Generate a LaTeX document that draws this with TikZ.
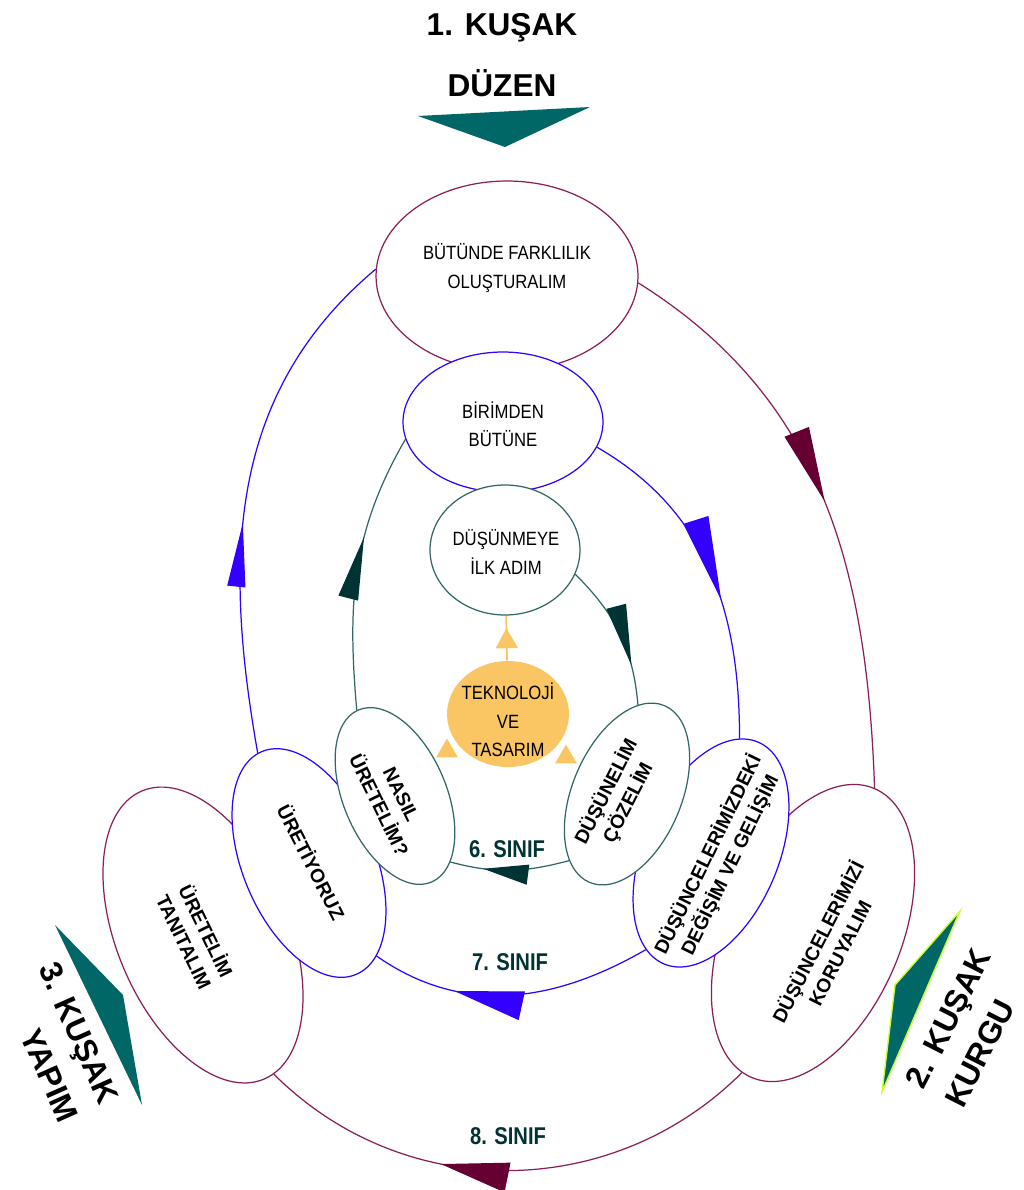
\documentclass[tikz,border=0pt]{standalone}
\usepackage{fontspec}
\setmainfont{Liberation Sans}
\usepackage{tikz}
\usetikzlibrary{arrows.meta}
\usetikzlibrary{decorations.markings}
\usetikzlibrary{shapes.geometric}
\usetikzlibrary{backgrounds}

\definecolor{mor}{RGB}{140,30,90}
\definecolor{morok}{RGB}{102,0,51}
\definecolor{mavi}{RGB}{51,0,255}
\definecolor{yesil}{RGB}{51,102,102}
\definecolor{yesilok}{RGB}{0,51,51}
\definecolor{kusak}{RGB}{0,102,102}
\definecolor{turuncu}{RGB}{250,198,100}
\definecolor{sari}{RGB}{204,255,51}

\tikzset{
  halka/.style={ellipse, draw=#1, fill=white, line width=0.7pt, inner sep=0pt},
  yazi/.style={align=center, yscale=1.15, font=\fontsize{9.5}{14}\selectfont},
  donenyazi/.style={align=center, font=\bfseries\fontsize{11}{14}\selectfont},
  sinifyazi/.style={yscale=1.2, text=yesilok, font=\bfseries\fontsize{11.5}{12}\selectfont},
  kusakyazi/.style={font=\bfseries\fontsize{18}{25}\selectfont},
  sivri/.style={regular polygon, regular polygon sides=3, fill=turuncu, inner sep=0pt, minimum size=0.5cm},
  ok/.style n args={4}{postaction={decorate}, decoration={markings,
      mark=at position #1 with {\arrow{Triangle[length=#2, width=#3, color=#4]}}}},
}

\begin{document}
\begin{tikzpicture}[x=0.02cm, y=0.02cm]
\useasboundingbox (0,0) rectangle (1024,-1190);

% halkalar
\node[halka=mor, minimum width=5.24cm, minimum height=3.8cm] (ust) at (507,-276) {};
\node[halka=mor, rotate=-67, minimum width=6.26cm, minimum height=3.44cm] (tanit) at (203,-935) {};
\node[halka=mor, rotate=67, minimum width=6.28cm, minimum height=3.52cm] (koru) at (813,-933) {};

\node[halka=mavi, minimum width=4cm, minimum height=2.8cm] (birim) at (503,-422) {};
\node[halka=mavi, rotate=-67, minimum width=4.84cm, minimum height=2.64cm] (uret) at (309,-863) {};
\node[halka=mavi, rotate=67, minimum width=4.82cm, minimum height=2.7cm] (degis) at (711,-853) {};

\node[halka=yesil, minimum width=3cm, minimum height=2.6cm] (ilk) at (505,-550) {};
\node[halka=yesil, rotate=-67, minimum width=3.74cm, minimum height=2.06cm] (nasil) at (395,-796) {};
\node[halka=yesil, rotate=67, minimum width=3.84cm, minimum height=2.18cm] (coz) at (627,-794) {};

\node[ellipse, fill=turuncu, minimum width=2.44cm, minimum height=2.12cm] (tekno) at (508,-714) {};
\node[sivri] (solsivri) at (447,-751) {};
\node[sivri] (sagsivri) at (566,-757) {};

% yazilar
\node[yazi] (ust-y) at (507,-268) {BÜTÜNDE FARKLILIK\\OLUŞTURALIM};
\node[yazi] (birim-y) at (503,-424) {BİRİMDEN\\BÜTÜNE};
\node[yazi] (ilk-y) at (506,-552) {DÜŞÜNMEYE\\İLK ADIM};
\node[yazi] (tekno-y) at (508,-720) {TEKNOLOJİ\\VE\\TASARIM};
\node[donenyazi, rotate=-64] (nasil-y) at (390,-800) {NASIL\\ÜRETELİM?};
\node[donenyazi, rotate=63] (coz-y) at (617,-797) {DÜŞÜNELİM\\ÇÖZELİM};
\node[donenyazi, rotate=-63] (uret-y) at (312,-862) {ÜRETİYORUZ};
\node[donenyazi, rotate=-64] (tanit-y) at (196,-936) {ÜRETELİM\\TANITALIM};
\node[donenyazi, rotate=64] (degis-y) at (719,-860) {DÜŞÜNCELERİMİZDEKİ\\DEĞİŞİM VE GELİŞİM};
\node[donenyazi, rotate=63] (koru-y) at (828,-947) {DÜŞÜNCELERİMİZİ\\KORUYALIM};

\node[sinifyazi] (s6) at (507,-849) {6. SINIF};
\node[sinifyazi] (s7) at (510,-962) {7. SINIF};
\node[sinifyazi] (s8) at (508,-1136) {8. SINIF};

% kusak oklari
\fill[kusak] (418,-116) -- (590,-107) -- (505,-147) -- cycle;
\fill[kusak] (55,-925) -- (123,-995) -- (142,-1105) -- cycle;
\filldraw[fill=kusak, draw=sari, line width=0.8pt] (960,-911) -- (895,-985) -- (882,-1092) -- cycle;

\node[kusakyazi, align=center, font=\bfseries\fontsize{18}{35}\selectfont] (duzen) at (502,-55) {1. KUŞAK\\DÜZEN};
\node[kusakyazi, align=left, rotate=63] (kurgu) at (968,-1028) {2. KUŞAK\\KURGU};
\node[kusakyazi, align=right, rotate=-66] (yapim) at (59,-1042) {3. KUŞAK\\YAPIM};

\begin{scope}[on background layer]
\fill[white] (0,0) rectangle (1024,-1190);
% 8. sinif
\draw[mor, line width=0.7pt, ok={0.5}{1.5cm}{0.52cm}{morok}] (ust.-3) to[out=-32, in=92] (koru.0);
\draw[mor, line width=0.7pt, ok={0.63}{1.36cm}{0.6cm}{morok}] (koru.176) to[out=-135, in=-45] (tanit.4);
% 7. sinif
\draw[mavi, line width=0.7pt, ok={0.59}{1.68cm}{0.52cm}{mavi}] (birim.-15) to[out=-30, in=90] (degis.9);
\draw[mavi, line width=0.7pt, ok={0.7}{1.38cm}{0.58cm}{mavi}] (degis.169) to[out=-150, in=-35] (uret.13);
\draw[mavi, line width=0.7pt, ok={0.44}{1.28cm}{0.36cm}{mavi}] (uret.182) to[out=100, in=-140] (ust.177);
% 6. sinif
\draw[yesil, line width=0.7pt, ok={0.73}{1.22cm}{0.4cm}{yesilok}] (ilk.-19) to[out=-45, in=95] (coz.16);
\draw[yesil, line width=0.7pt, ok={0.72}{0.9cm}{0.4cm}{yesilok}] (coz.162) to[out=-165, in=-15] (nasil.17);
\draw[yesil, line width=0.7pt, ok={0.62}{1.26cm}{0.4cm}{yesilok}] (nasil.181) to[out=95, in=-120] (birim.190);
\draw[turuncu, line width=1pt, ok={0.72}{0.4cm}{0.44cm}{turuncu}] (tekno) -- (ilk);
\end{scope}

\end{tikzpicture}
\end{document}
